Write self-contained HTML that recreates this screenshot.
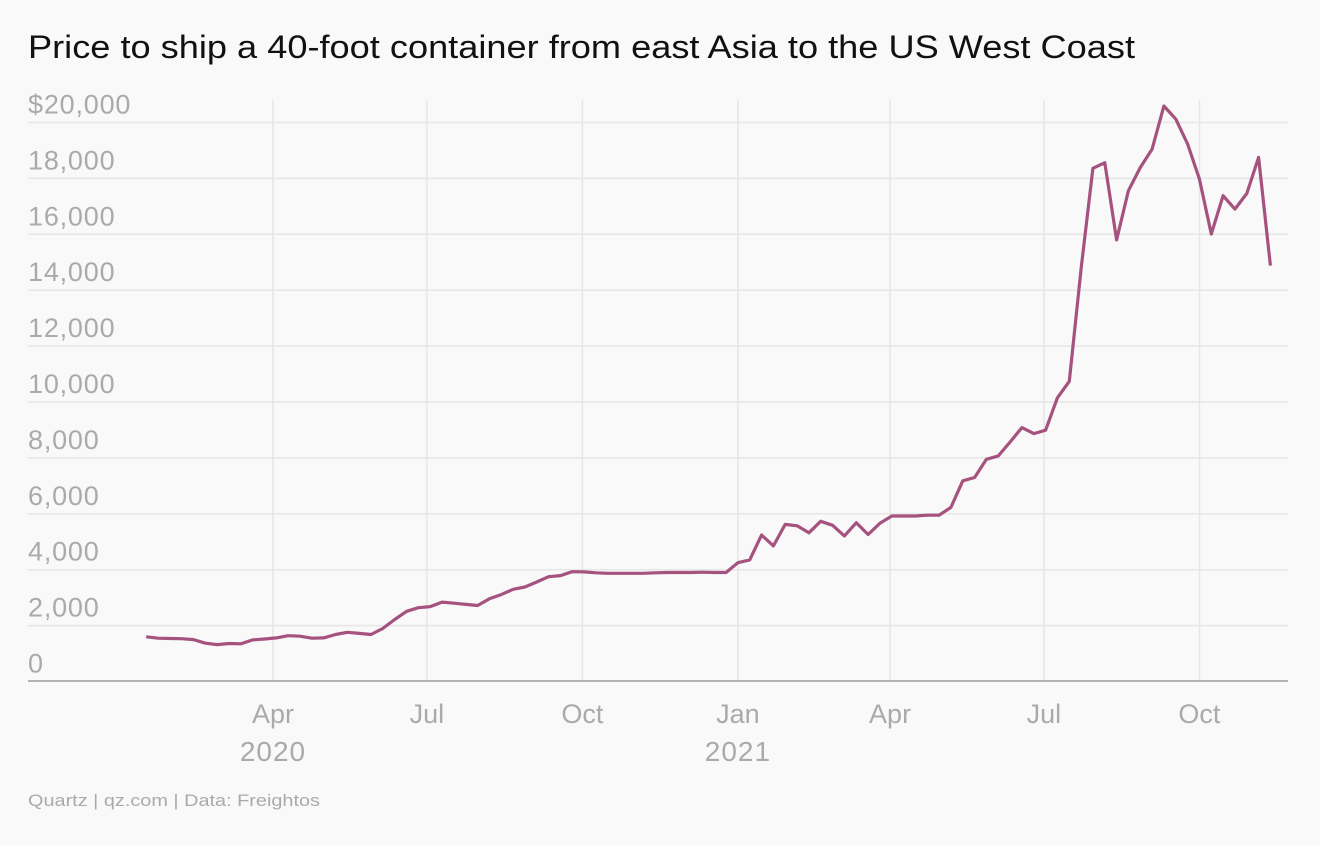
<!DOCTYPE html>
<html><head><meta charset="utf-8"><style>
body{margin:0;background:#f9f9f9;width:1320px;height:840px;overflow:hidden;font-family:"Liberation Sans",sans-serif}
</style></head><body>
<svg id="chart" width="1320" height="840" xmlns="http://www.w3.org/2000/svg">
<rect width="1320" height="840" fill="#f9f9f9"/>
<text x="28" y="58" font-size="32" fill="#111" textLength="1107" lengthAdjust="spacingAndGlyphs">Price to ship a 40-foot container from east Asia to the US West Coast</text>
<g id="grid"></g><g id="ylabels"></g><g id="xlabels"></g>
<line x1="28" x2="1288" y1="681" y2="681" stroke="#9a9a9a" stroke-width="1.5"/>
<path id="line" fill="none" stroke="#a5527f" stroke-width="3.2" stroke-linejoin="round"/>
<text x="28" y="806" font-size="17" fill="#aaa" textLength="292" lengthAdjust="spacingAndGlyphs">Quartz | qz.com | Data: Freightos</text>
</svg>
<script>
const values = [1600,1550,1540,1530,1500,1370,1320,1360,1350,1490,1520,1560,1640,1620,1550,1560,1680,1760,1720,1680,1900,2220,2510,2640,2680,2840,2800,2760,2720,2960,3110,3300,3380,3560,3750,3790,3930,3920,3890,3870,3870,3870,3870,3890,3900,3900,3900,3910,3900,3900,4250,4350,5240,4850,5620,5570,5320,5730,5590,5210,5680,5260,5660,5920,5920,5920,5950,5950,6230,7180,7300,7950,8070,8570,9085,8870,8990,10150,10740,14770,18360,18560,15800,17560,18390,19050,20590,20120,19230,17980,16010,17380,16900,17460,18750,14880];
const startDate = "2020-01-17";
const yTicks = [0,2000,4000,6000,8000,10000,12000,14000,16000,18000,20000];
const yTickLabels = ["0","2,000","4,000","6,000","8,000","10,000","12,000","14,000","16,000","18,000","$20,000"];
const xTickDates = ["2020-04-01","2020-07-01","2020-10-01","2021-01-01","2021-04-01","2021-07-01","2021-10-01"];
const xTickLabels = ["Apr","Jul","Oct","Jan","Apr","Jul","Oct"];
const xTickYears = ["2020","","","2021","","",""];
const NS="http://www.w3.org/2000/svg";
const t0=Date.parse(startDate);
function dayOf(d){return (Date.parse(d)-t0)/86400000;}
function x(day){return 146.2+day*1.6906;}
function y(v){return 681.5-v*0.02795;}
const grid=document.getElementById('grid'),yl=document.getElementById('ylabels'),xl=document.getElementById('xlabels');
yTicks.forEach((v,i)=>{
  if(v>0){const l=document.createElementNS(NS,'line');
  l.setAttribute('x1',28);l.setAttribute('x2',1288);l.setAttribute('y1',y(v));l.setAttribute('y2',y(v));
  l.setAttribute('stroke','#e6e6e6');l.setAttribute('stroke-width','1.5');
  
  
  grid.appendChild(l);}
  const t=document.createElementNS(NS,'text');
  t.setAttribute('x',28);t.setAttribute('y',y(v)-9);t.setAttribute('font-size','27');t.setAttribute('fill','#aaa');
  t.setAttribute('letter-spacing','0.8');
  t.textContent=yTickLabels[i];
  
  
  yl.appendChild(t);
});
xTickDates.forEach((d,i)=>{
  const xx=x(dayOf(d));
  const l=document.createElementNS(NS,'line');
  l.setAttribute('x1',xx);l.setAttribute('x2',xx);l.setAttribute('y1',100);l.setAttribute('y2',681);
  l.setAttribute('stroke','#e6e6e6');l.setAttribute('stroke-width','1.5');
  
  
  grid.appendChild(l);
  const t=document.createElementNS(NS,'text');
  t.setAttribute('x',xx);t.setAttribute('y',723);t.setAttribute('font-size','27');t.setAttribute('fill','#aaa');t.setAttribute('text-anchor','middle');
  t.textContent=xTickLabels[i];
  
  
  xl.appendChild(t);
  if(xTickYears[i]){const t2=document.createElementNS(NS,'text');
  t2.setAttribute('x',xx);t2.setAttribute('y',761);t2.setAttribute('font-size','28');t2.setAttribute('fill','#aaa');t2.setAttribute('text-anchor','middle');
  t2.setAttribute('letter-spacing','1');
  t2.textContent=xTickYears[i];
  
  
  xl.appendChild(t2);}
});
document.getElementById('line').setAttribute('d',values.map((v,i)=>(i?'L':'M')+x(i*7).toFixed(1)+','+y(v).toFixed(1)).join(''));
</script>
</body></html>
